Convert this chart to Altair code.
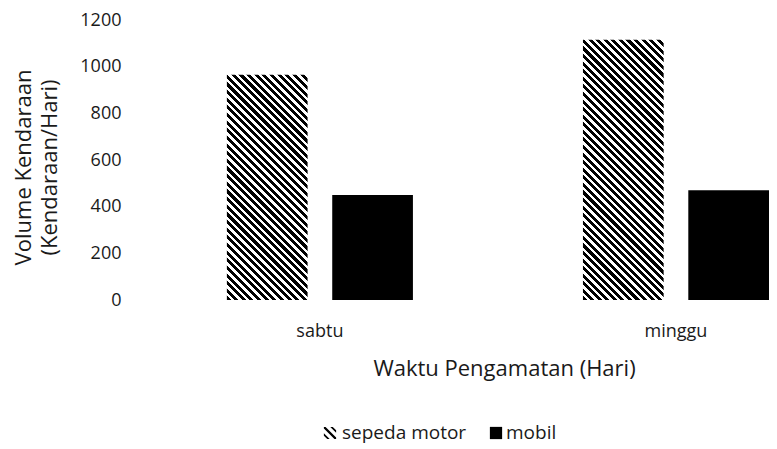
import altair as alt
import pandas as pd

# ---- data ----
days = ["sabtu", "minggu"]
series = ["sepeda motor", "mobil"]
motor_values = [965, 1115]
mobil_values = [450, 470]
y_ticks = [0, 200, 400, 600, 800, 1000, 1200]

rows = []
for d, m, c in zip(days, motor_values, mobil_values):
    rows.append({"hari": d, "jenis": series[0], "volume": m})
    rows.append({"hari": d, "jenis": series[1], "volume": c})
df = pd.DataFrame(rows)

# ---- layout constants ----
PLOT_W, PLOT_H = 629, 280
Y_MAX = 1200
OUT_PI, OUT_PO = 0.4775, 0.122
IN_PI = 0.234
FONT = "Open Sans"
INK = "#1a1a1a"

# bar pixel width (for the hatch gradient geometry)
step = PLOT_W / (2 - OUT_PI + 2 * OUT_PO)
group_w = step * (1 - OUT_PI)
bar_w = group_w / (2 - IN_PI) * (1 - IN_PI)


def hatch(value, period=7.6, duty=0.54):
    """Diagonal '\\' stripes as a hard-stop linear gradient in bbox units."""
    w = bar_w
    h = value / Y_MAX * PLOT_H
    s = (w + h) / (w * w + h * h)
    n = max(1, round((w + h) / period))
    stops = []
    for i in range(n):
        o0, o1, o2 = i / n, (i + duty) / n, (i + 1) / n
        stops += [
            alt.GradientStop(offset=o0, color="black"),
            alt.GradientStop(offset=o1, color="black"),
            alt.GradientStop(offset=o1, color="white"),
            alt.GradientStop(offset=o2, color="white"),
        ]
    return alt.LinearGradient(
        gradient="linear", stops=stops,
        x1=0, y1=1, x2=s * w, y2=1 - s * h,
    )


base = alt.Chart(df).encode(
    x=alt.X(
        "hari:N", sort=days,
        scale=alt.Scale(domain=days, paddingInner=OUT_PI, paddingOuter=OUT_PO, align=1),
        axis=alt.Axis(
            title="Waktu Pengamatan (Hari)", labelAngle=0, labelPadding=22,
            titleX=364, titleY=68, titleBaseline="middle", titleAlign="center",
        ),
    ),
    xOffset=alt.XOffset(
        "jenis:N", sort=series,
        scale=alt.Scale(domain=series, paddingInner=IN_PI, paddingOuter=0),
    ),
    y=alt.Y(
        "volume:Q",
        scale=alt.Scale(domain=[0, Y_MAX], nice=False),
        axis=alt.Axis(
            values=y_ticks, format="d", labelPadding=19,
            title=["Volume Kendaraan", "(Kendaraan/Hari)"],
            titleAngle=-90, titleX=-127, titleY=147, titleBaseline="top",
            titleAlign="center", titleLineHeight=26,
        ),
    ),
)

layers = []
for d, v in zip(days, motor_values):
    layers.append(
        base.transform_filter(
            (alt.datum.hari == d) & (alt.datum.jenis == series[0])
        ).mark_bar(fill=hatch(v))
    )
layers.append(
    base.transform_filter(alt.datum.jenis == series[1]).mark_bar(fill="black")
)

# ---- custom legend ----
leg = alt.Chart(pd.DataFrame({"label": series}))
hatch_path = (
    "M-1,-1L-0.72,-1L1,0.72L1,1L0.72,1L-1,-0.72Z"
    "M0.05,-1L0.45,-1L1,-0.45L1,-0.05Z"
    "M-1,0.05L-0.05,1L-0.45,1L-1,0.45Z"
)
layers += [
    leg.transform_filter(alt.datum.label == series[0]).mark_point(
        shape=hatch_path, filled=True, fill="black", size=150, opacity=1, strokeWidth=0
    ).encode(x=alt.value(190), y=alt.value(413)),
    leg.transform_filter(alt.datum.label == series[0]).mark_text(
        align="left", baseline="middle", font=FONT, fontSize=19, color=INK
    ).encode(x=alt.value(202), y=alt.value(413), text="label:N"),
    leg.transform_filter(alt.datum.label == series[1]).mark_square(
        size=150, fill="black", opacity=1
    ).encode(x=alt.value(356), y=alt.value(413)),
    leg.transform_filter(alt.datum.label == series[1]).mark_text(
        align="left", baseline="middle", font=FONT, fontSize=19, color=INK
    ).encode(x=alt.value(366), y=alt.value(413), text="label:N"),
]

chart = alt.layer(*layers).properties(
    width=PLOT_W, height=PLOT_H,
    autosize=alt.AutoSizeParams(type="none"),
    padding={"left": 132, "top": 12, "right": 0, "bottom": 146},
).configure_view(stroke=None).configure_axis(
    domain=False, grid=False, ticks=False, tickSize=0,
    labelFont=FONT, labelFontSize=18, labelColor=INK,
    titleFont=FONT, titleFontSize=22, titleFontWeight="normal", titleColor=INK,
)

chart.save("out.html", embed_options={"renderer": "svg", "actions": False})
